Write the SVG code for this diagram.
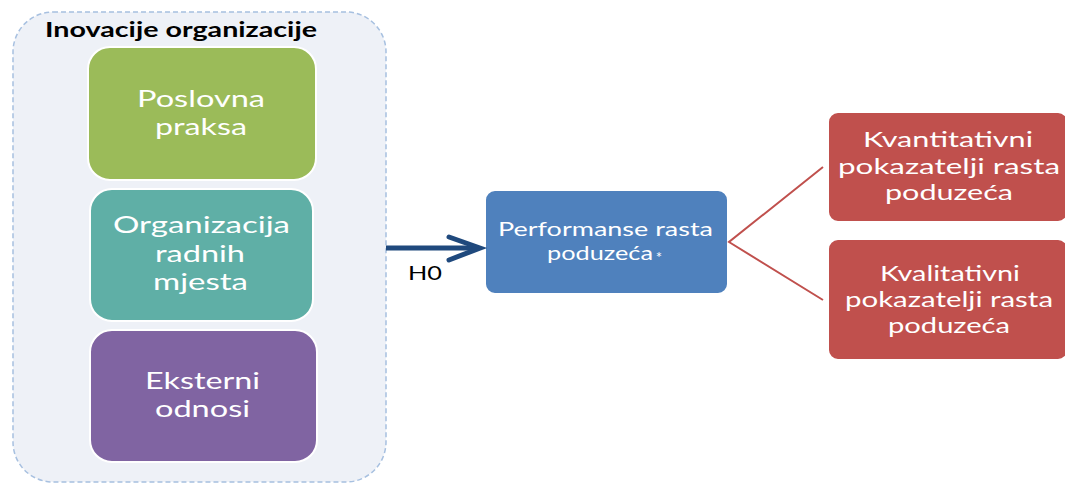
<svg xmlns="http://www.w3.org/2000/svg" width="1065" height="484" viewBox="0 0 1065 484">
<style>
.t{font-family:Lato,"Open Sans","Liberation Sans",sans-serif;fill:#fff;text-anchor:middle}
.box{stroke:#fff;stroke-width:2}
</style>
<rect width="1065" height="484" fill="#fff"/>
<g id="container">
<rect x="13" y="12" width="373" height="470" rx="40" fill="#EEF1F7" stroke="#A7C0E0" stroke-width="1.5" stroke-dasharray="5,3"/>
<text x="181" y="37" font-family="Lato,'Open Sans','Liberation Sans',sans-serif" font-weight="bold" font-size="21" fill="#000" text-anchor="middle" textLength="272" lengthAdjust="spacingAndGlyphs">Inovacije organizacije</text>
</g>
<g id="poslovna">
<rect class="box" x="88" y="47" width="228" height="133" rx="22" fill="#9BBB59"/>
<text class="t" x="201" y="107" font-size="23" textLength="128" lengthAdjust="spacingAndGlyphs">Poslovna</text>
<text class="t" x="201" y="135" font-size="23" textLength="92" lengthAdjust="spacingAndGlyphs">praksa</text>
</g>
<g id="organizacija">
<rect class="box" x="90" y="189" width="223" height="132" rx="22" fill="#5FAFA6"/>
<text class="t" x="201.5" y="233" font-size="23" textLength="177" lengthAdjust="spacingAndGlyphs">Organizacija</text>
<text class="t" x="200" y="262" font-size="23" textLength="90" lengthAdjust="spacingAndGlyphs">radnih</text>
<text class="t" x="200.5" y="290" font-size="23" textLength="95" lengthAdjust="spacingAndGlyphs">mjesta</text>
</g>
<g id="eksterni">
<rect class="box" x="90" y="330" width="227" height="132" rx="22" fill="#8064A2"/>
<text class="t" x="202.5" y="389" font-size="23" textLength="115" lengthAdjust="spacingAndGlyphs">Eksterni</text>
<text class="t" x="202.5" y="417" font-size="23" textLength="95" lengthAdjust="spacingAndGlyphs">odnosi</text>
</g>
<g id="performanse">
<rect class="box" x="485" y="190" width="243" height="104" rx="10" fill="#4F81BD"/>
<text class="t" x="605.5" y="236" font-size="19" textLength="215" lengthAdjust="spacingAndGlyphs">Performanse rasta</text>
<text class="t" x="600" y="260" font-size="19" textLength="106" lengthAdjust="spacingAndGlyphs">poduzeća</text>
<text class="t" x="659" y="263" font-size="15">*</text>
</g>
<g id="kvantitativni">
<rect class="box" x="828" y="112" width="240" height="110" rx="10" fill="#C0504D"/>
<text class="t" x="948" y="147" font-size="21.5" textLength="170" lengthAdjust="spacingAndGlyphs">Kvantitativni</text>
<text class="t" x="949" y="174" font-size="21.5" textLength="222" lengthAdjust="spacingAndGlyphs">pokazatelji rasta</text>
<text class="t" x="949" y="200" font-size="21.5" textLength="128" lengthAdjust="spacingAndGlyphs">poduzeća</text>
</g>
<g id="kvalitativni">
<rect class="box" x="828" y="239" width="240" height="121" rx="10" fill="#C0504D"/>
<text class="t" x="950" y="281" font-size="21.5" textLength="140" lengthAdjust="spacingAndGlyphs">Kvalitativni</text>
<text class="t" x="949" y="307" font-size="21.5" textLength="208" lengthAdjust="spacingAndGlyphs">pokazatelji rasta</text>
<text class="t" x="949" y="333" font-size="21.5" textLength="122" lengthAdjust="spacingAndGlyphs">poduzeća</text>
</g>
<g id="connectors">
<line x1="386" y1="248" x2="479" y2="248" stroke="#1F497D" stroke-width="5"/>
<polyline points="449,237 480,248 449,260" fill="none" stroke="#1F497D" stroke-width="5" stroke-linejoin="miter" stroke-linecap="round"/>
<text x="425" y="280" font-family="Lato,'Open Sans','Liberation Sans',sans-serif" font-size="20" fill="#000" text-anchor="middle" textLength="34" lengthAdjust="spacingAndGlyphs">H0</text>
<polyline points="823,167 729,242 823,300" fill="none" stroke="#C0504D" stroke-width="2"/>
</g>
</svg>
